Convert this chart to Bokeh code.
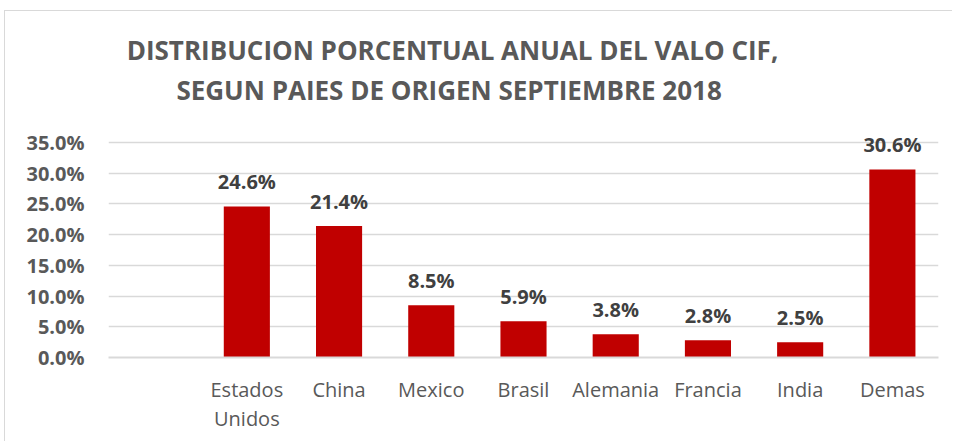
from bokeh.plotting import figure
from bokeh.models import ColumnDataSource, LabelSet, Label, NumeralTickFormatter, FixedTicker, Range1d
from bokeh.core.properties import value
from bokeh.embed import file_html
from bokeh.resources import INLINE

title_lines = ["DISTRIBUCION PORCENTUAL ANUAL DEL VALO CIF,",
               "SEGUN PAIES DE ORIGEN  SEPTIEMBRE 2018"]
categories = [" ", "Estados\nUnidos", "China", "Mexico", "Brasil", "Alemania", "Francia", "India", "Demas"]
bar_categories = categories[1:]
values = [0.246, 0.214, 0.085, 0.059, 0.038, 0.028, 0.025, 0.306]
value_labels = ["24.6%", "21.4%", "8.5%", "5.9%", "3.8%", "2.8%", "2.5%", "30.6%"]
y_ticks = [0.0, 0.05, 0.10, 0.15, 0.20, 0.25, 0.30, 0.35]

FONT = "Open Sans"
src = ColumnDataSource(dict(cat=bar_categories, val=values, lab=value_labels))

# frame: 346 px tall, 35% gridline 215 px above the bottom
p = figure(x_range=categories, y_range=Range1d(0, 0.35 * 346 / 215), width=948, height=431,
           output_backend="svg", toolbar_location=None,
           min_border_left=103, min_border_right=15, min_border_top=0, min_border_bottom=85)
p.outline_line_color = None
p.background_fill_color = "white"
p.border_fill_color = "white"

p.vbar(x="cat", top="val", width=0.5, source=src, fill_color="#c00000", line_color=None)

p.add_layout(LabelSet(x="cat", y="val", text="lab", source=src, y_offset=25,
                      text_align="center", text_baseline="middle",
                      text_font=value(FONT), text_font_style="bold", text_font_size="20px",
                      text_color="#404040"))

# y axis
p.yaxis.ticker = FixedTicker(ticks=y_ticks)
p.yaxis.formatter = NumeralTickFormatter(format="0.0%")
p.yaxis.axis_line_color = None
p.yaxis.major_tick_line_color = None
p.yaxis.minor_tick_line_color = None
p.yaxis.major_label_text_font = FONT
p.yaxis.major_label_text_font_style = "bold"
p.yaxis.major_label_text_font_size = "20px"
p.yaxis.major_label_text_color = "#595959"
p.yaxis.major_label_standoff = 18

# x axis
p.xaxis.axis_line_color = "#d9d9d9"
p.xaxis.axis_line_width = 2
p.xaxis.major_tick_line_color = None
p.xaxis.minor_tick_line_color = None
p.xaxis.major_label_text_font = FONT
p.xaxis.major_label_text_font_size = "20px"
p.xaxis.major_label_text_color = "#595959"
p.xaxis.major_label_text_line_height = 1.1
p.xaxis.major_label_standoff = 12

p.xgrid.grid_line_color = None
p.ygrid.grid_line_color = "#d9d9d9"
p.ygrid.grid_line_width = 1.5

for t, yoff in zip(title_lines, [308, 268]):
    p.add_layout(Label(x=344, y=yoff, x_units="screen", y_units="screen", text=t,
                       text_align="center", text_baseline="middle",
                       text_font=FONT, text_font_style="bold", text_font_size="26px",
                       text_color="#595959"))

p.styles = {"margin-left": "4px", "margin-top": "10px",
            "border-left": "1px solid #d9d9d9", "border-top": "1px solid #d9d9d9"}

open("out.html", "w").write(file_html(p, INLINE))
